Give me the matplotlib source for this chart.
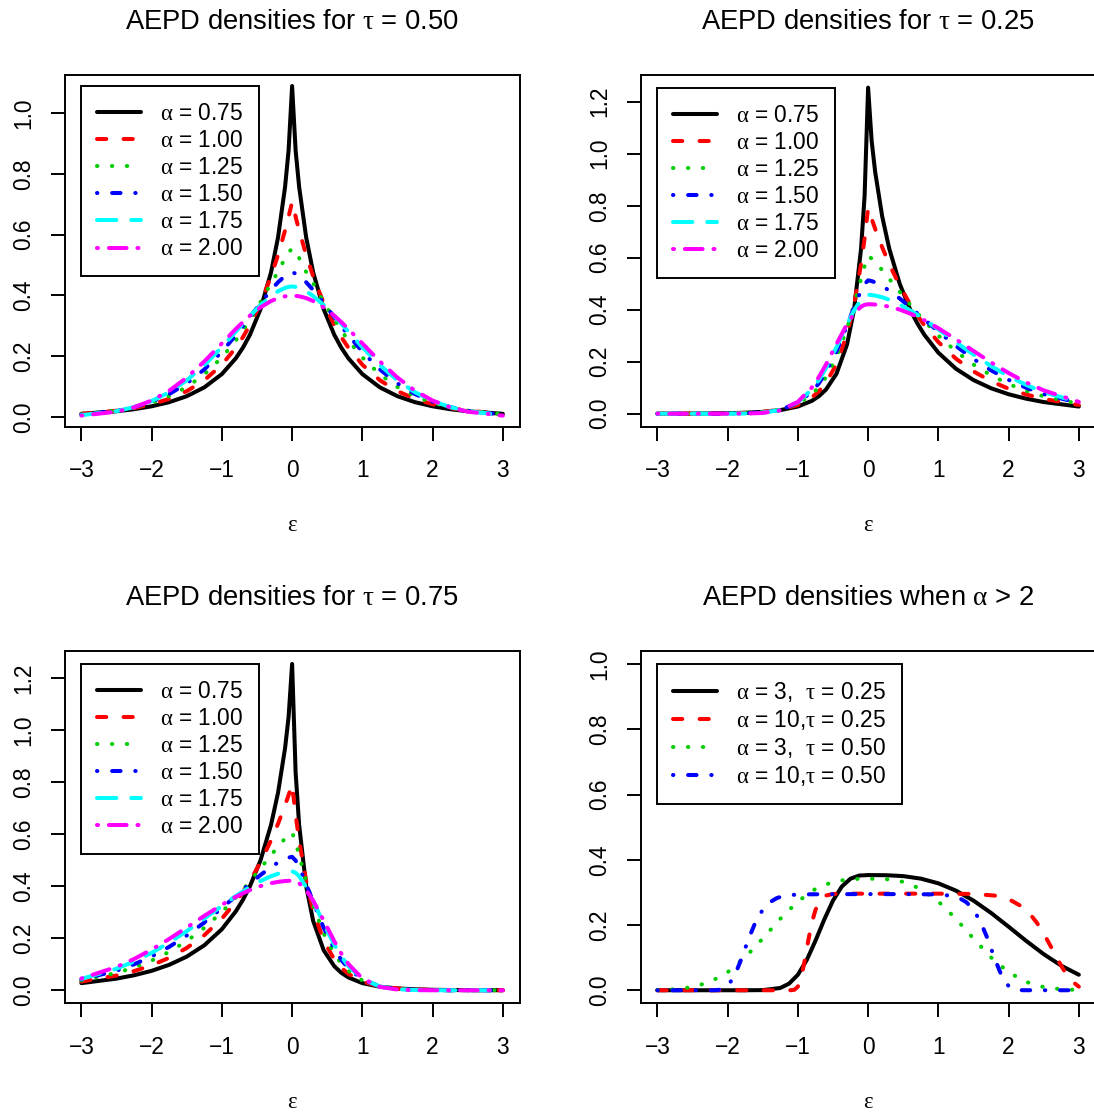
import matplotlib
matplotlib.use('Agg')
import matplotlib.pyplot as plt

plt.rcParams['font.family'] = ['Liberation Sans', 'DejaVu Sans']
plt.rcParams['mathtext.fontset'] = 'custom'
plt.rcParams['mathtext.rm'] = 'Liberation Serif'
plt.rcParams['mathtext.it'] = 'Liberation Serif:italic'
plt.rcParams['mathtext.bf'] = 'Liberation Serif:bold'

# ---- data ----
# distances from 0 where the densities were read, on each side of the mode
offsets = [0.05, 0.1, 0.2, 0.3, 0.45, 0.6, 0.7, 0.8, 1, 1.25, 1.5, 1.75, 2, 2.25, 2.5, 3]
eps = [-o for o in reversed(offsets)] + [0] + offsets

alpha_labels = ['0.75', '1.00', '1.25', '1.50', '1.75', '2.00']

# tau = 0.50 (value at 0, left side going out, right side going out)
t50_peak = [1.0886, 0.7071, 0.5545, 0.4760, 0.4293, 0.3989]
t50_left = [
    [0.8771, 0.7570, 0.5909, 0.4756, 0.3544, 0.2704, 0.2280, 0.1933, 0.1411, 0.0973, 0.0683, 0.0486, 0.0351, 0.0255, 0.0187, 0.0103],
    [0.6588, 0.6139, 0.5329, 0.4626, 0.3742, 0.3027, 0.2627, 0.2281, 0.1719, 0.1207, 0.0848, 0.0595, 0.0418, 0.0293, 0.0206, 0.0102],
    [0.5410, 0.5230, 0.4769, 0.4401, 0.3778, 0.3200, 0.2847, 0.2522, 0.1957, 0.1400, 0.0984, 0.0682, 0.0466, 0.0315, 0.0210, 0.0091],
    [0.4717, 0.4641, 0.4432, 0.4176, 0.3742, 0.3287, 0.2985, 0.2692, 0.2146, 0.1563, 0.1102, 0.0753, 0.0500, 0.0323, 0.0204, 0.0076],
    [0.4279, 0.4246, 0.4136, 0.3979, 0.3678, 0.3324, 0.3071, 0.2812, 0.2297, 0.1704, 0.1204, 0.0812, 0.0524, 0.0324, 0.0192, 0.0060],
    [0.3984, 0.3970, 0.3910, 0.3814, 0.3605, 0.3332, 0.3122, 0.2897, 0.2420, 0.1826, 0.1295, 0.0863, 0.0540, 0.0317, 0.0175, 0.0044],
]
t50_right = [
    [0.8771, 0.7570, 0.5909, 0.4756, 0.3544, 0.2704, 0.2280, 0.1933, 0.1411, 0.0973, 0.0683, 0.0486, 0.0351, 0.0255, 0.0187, 0.0103],
    [0.6588, 0.6139, 0.5329, 0.4626, 0.3742, 0.3027, 0.2627, 0.2281, 0.1719, 0.1207, 0.0848, 0.0595, 0.0418, 0.0293, 0.0206, 0.0102],
    [0.5410, 0.5230, 0.4769, 0.4401, 0.3778, 0.3200, 0.2847, 0.2522, 0.1957, 0.1400, 0.0984, 0.0682, 0.0466, 0.0315, 0.0210, 0.0091],
    [0.4717, 0.4641, 0.4432, 0.4176, 0.3742, 0.3287, 0.2985, 0.2692, 0.2146, 0.1563, 0.1102, 0.0753, 0.0500, 0.0323, 0.0204, 0.0076],
    [0.4279, 0.4246, 0.4136, 0.3979, 0.3678, 0.3324, 0.3071, 0.2812, 0.2297, 0.1704, 0.1204, 0.0812, 0.0524, 0.0324, 0.0192, 0.0060],
    [0.3984, 0.3970, 0.3910, 0.3814, 0.3605, 0.3332, 0.3122, 0.2897, 0.2420, 0.1826, 0.1295, 0.0863, 0.0540, 0.0317, 0.0175, 0.0044],
]

# tau = 0.25
t25_peak = [1.2542, 0.7906, 0.6069, 0.5129, 0.4572, 0.4210]
t25_left = [
    [0.8373, 0.6357, 0.4000, 0.2665, 0.1537, 0.0927, 0.0674, 0.0495, 0.0275, 0.0137, 0.0071, 0.0037, 0.0020, 0.0011, 0.0006, 0.0002],
    [0.6750, 0.5762, 0.4200, 0.3062, 0.1905, 0.1186, 0.0864, 0.0630, 0.0335, 0.0152, 0.0069, 0.0031, 0.0014, 0.0006, 0.0003, 0.0001],
    [0.5684, 0.5193, 0.4189, 0.3279, 0.2184, 0.1404, 0.1029, 0.0745, 0.0379, 0.0156, 0.0061, 0.0023, 0.0008, 0.0003, 0.0001, 0.0000],
    [0.4986, 0.4736, 0.4094, 0.3390, 0.2397, 0.1590, 0.1172, 0.0845, 0.0413, 0.0151, 0.0050, 0.0015, 0.0004, 0.0001, 0.0000, 0.0000],
    [0.4515, 0.4385, 0.3973, 0.3436, 0.2558, 0.1750, 0.1300, 0.0933, 0.0437, 0.0142, 0.0039, 0.0009, 0.0002, 0.0000, 0.0000, 0.0000],
    [0.4186, 0.4117, 0.3851, 0.3445, 0.2682, 0.1888, 0.1414, 0.1012, 0.0454, 0.0130, 0.0028, 0.0005, 0.0001, 0.0000, 0.0000, 0.0000],
]
t25_right = [
    [1.0505, 0.9309, 0.7597, 0.6357, 0.4994, 0.4000, 0.3478, 0.3038, 0.2347, 0.1729, 0.1294, 0.0979, 0.0748, 0.0577, 0.0448, 0.0275],
    [0.7500, 0.7115, 0.6403, 0.5762, 0.4920, 0.4200, 0.3780, 0.3402, 0.2755, 0.2117, 0.1627, 0.1250, 0.0960, 0.0738, 0.0567, 0.0335],
    [0.5969, 0.5834, 0.5525, 0.5193, 0.4685, 0.4189, 0.3871, 0.3568, 0.3007, 0.2399, 0.1892, 0.1477, 0.1142, 0.0876, 0.0668, 0.0379],
    [0.5101, 0.5051, 0.4911, 0.4736, 0.4430, 0.4094, 0.3861, 0.3625, 0.3158, 0.2604, 0.2104, 0.1669, 0.1301, 0.0998, 0.0754, 0.0413],
    [0.4563, 0.4544, 0.4479, 0.4385, 0.4200, 0.3973, 0.3804, 0.3624, 0.3243, 0.2753, 0.2275, 0.1832, 0.1441, 0.1106, 0.0830, 0.0437],
    [0.4207, 0.4199, 0.4168, 0.4117, 0.4004, 0.3851, 0.3729, 0.3593, 0.3287, 0.2860, 0.2413, 0.1973, 0.1565, 0.1203, 0.0897, 0.0454],
]

# tau = 0.75 (mirror image of tau = 0.25)
t75_peak = [1.2542, 0.7906, 0.6069, 0.5129, 0.4572, 0.4210]
t75_left = [
    [1.0505, 0.9309, 0.7597, 0.6357, 0.4994, 0.4000, 0.3478, 0.3038, 0.2347, 0.1729, 0.1294, 0.0979, 0.0748, 0.0577, 0.0448, 0.0275],
    [0.7500, 0.7115, 0.6403, 0.5762, 0.4920, 0.4200, 0.3780, 0.3402, 0.2755, 0.2117, 0.1627, 0.1250, 0.0960, 0.0738, 0.0567, 0.0335],
    [0.5969, 0.5834, 0.5525, 0.5193, 0.4685, 0.4189, 0.3871, 0.3568, 0.3007, 0.2399, 0.1892, 0.1477, 0.1142, 0.0876, 0.0668, 0.0379],
    [0.5101, 0.5051, 0.4911, 0.4736, 0.4430, 0.4094, 0.3861, 0.3625, 0.3158, 0.2604, 0.2104, 0.1669, 0.1301, 0.0998, 0.0754, 0.0413],
    [0.4563, 0.4544, 0.4479, 0.4385, 0.4200, 0.3973, 0.3804, 0.3624, 0.3243, 0.2753, 0.2275, 0.1832, 0.1441, 0.1106, 0.0830, 0.0437],
    [0.4207, 0.4199, 0.4168, 0.4117, 0.4004, 0.3851, 0.3729, 0.3593, 0.3287, 0.2860, 0.2413, 0.1973, 0.1565, 0.1203, 0.0897, 0.0454],
]
t75_right = [
    [0.8373, 0.6357, 0.4000, 0.2665, 0.1537, 0.0927, 0.0674, 0.0495, 0.0275, 0.0137, 0.0071, 0.0037, 0.0020, 0.0011, 0.0006, 0.0002],
    [0.6750, 0.5762, 0.4200, 0.3062, 0.1905, 0.1186, 0.0864, 0.0630, 0.0335, 0.0152, 0.0069, 0.0031, 0.0014, 0.0006, 0.0003, 0.0001],
    [0.5684, 0.5193, 0.4189, 0.3279, 0.2184, 0.1404, 0.1029, 0.0745, 0.0379, 0.0156, 0.0061, 0.0023, 0.0008, 0.0003, 0.0001, 0.0000],
    [0.4986, 0.4736, 0.4094, 0.3390, 0.2397, 0.1590, 0.1172, 0.0845, 0.0413, 0.0151, 0.0050, 0.0015, 0.0004, 0.0001, 0.0000, 0.0000],
    [0.4515, 0.4385, 0.3973, 0.3436, 0.2558, 0.1750, 0.1300, 0.0933, 0.0437, 0.0142, 0.0039, 0.0009, 0.0002, 0.0000, 0.0000, 0.0000],
    [0.4186, 0.4117, 0.3851, 0.3445, 0.2682, 0.1888, 0.1414, 0.1012, 0.0454, 0.0130, 0.0028, 0.0005, 0.0001, 0.0000, 0.0000, 0.0000],
]

# alpha > 2
a3_t25_x = [-3, -2.5, -2, -1.75, -1.5, -1.25, -1.125, -1, -0.875, -0.75, -0.625, -0.5, -0.375, -0.25, -0.125, 0,
            0.25, 0.5, 0.75, 1, 1.25, 1.5, 1.75, 2, 2.25, 2.5, 2.75, 3]
a3_t25_y = [0.0, 0.0, 0.0, 0.0, 0.0004, 0.0070, 0.0203, 0.0475, 0.0921, 0.1514, 0.2164, 0.2748, 0.3177, 0.3422,
            0.3517, 0.3531, 0.3527, 0.3499, 0.3422, 0.3278, 0.3054, 0.2748, 0.2371, 0.1948, 0.1514, 0.1106, 0.0753, 0.0475]

a10_t25_x = [-3, -1.2, -1.1, -1.05, -1.0, -0.95, -0.9, -0.85, -0.8, -0.75, -0.7, -0.6, -0.5, -0.3, 0,
             1.0, 1.5, 1.8, 2.0, 2.2, 2.3, 2.4, 2.5, 2.6, 2.7, 2.8, 2.9, 3.0]
a10_t25_y = [0.0, 0.0, 0.0001, 0.0014, 0.0109, 0.0411, 0.0937, 0.1546, 0.2078, 0.2459, 0.2697, 0.2903, 0.2952, 0.2961,
             0.2961, 0.2961, 0.2952, 0.2903, 0.2796, 0.2553, 0.2349, 0.2078, 0.1738, 0.1345, 0.0937, 0.0566, 0.0282, 0.0109]

a3_t50_x = [-3, -2.75, -2.5, -2.25, -2, -1.75, -1.5, -1.25, -1, -0.75, -0.5, -0.25, 0,
            0.25, 0.5, 0.75, 1, 1.25, 1.5, 1.75, 2, 2.25, 2.5, 2.75, 3]
a3_t50_y = [0.0007, 0.0030, 0.0097, 0.0255, 0.0552, 0.1008, 0.1584, 0.2191, 0.2723, 0.3107, 0.3325, 0.3409, 0.3421,
            0.3409, 0.3325, 0.3107, 0.2723, 0.2191, 0.1584, 0.1008, 0.0552, 0.0255, 0.0097, 0.0030, 0.0007]

a10_t50_x = [-3, -2.4, -2.2, -2.1, -2.0, -1.9, -1.8, -1.7, -1.6, -1.5, -1.4, -1.3, -1.2, -1.0, -0.5, 0,
             0.5, 1.0, 1.2, 1.3, 1.4, 1.5, 1.6, 1.7, 1.8, 1.9, 2.0, 2.1, 2.2, 2.4, 3]
a10_t50_y = [0.0, 0.0, 0.0001, 0.0017, 0.0127, 0.0447, 0.0983, 0.1586, 0.2102, 0.2468, 0.2696, 0.2825, 0.2892, 0.2938,
             0.2947, 0.2947, 0.2947, 0.2938, 0.2892, 0.2825, 0.2696, 0.2468, 0.2102, 0.1586, 0.0983, 0.0447, 0.0127,
             0.0017, 0.0001, 0.0, 0.0]

x_ticks = [-3, -2, -1, 0, 1, 2, 3]
y_ticks_a = [0.0, 0.2, 0.4, 0.6, 0.8, 1.0]
y_ticks_b = [0.0, 0.2, 0.4, 0.6, 0.8, 1.0, 1.2]

# ---- styles (R palette / lty 1..6) ----
colors = ['black', 'red', '#00CD00', 'blue', 'cyan', 'magenta']
dashes = [None, (2.3, 4.3), (0.1, 3.6), (0.1, 3.65, 2.1, 3.65), (4.8, 3.7), (0.25, 2.7, 4.4, 2.7)]
LW = 2.9
FS = 16.4
TFS = 19.7

fig = plt.figure(figsize=(10.94, 11.14), dpi=100)
W = 0.41609
positions = [
    [0.05896, 0.61697, W, 0.316],
    [0.58547, 0.61697, W, 0.316],
    [0.05896, 0.09937, W, 0.31625],
    [0.58547, 0.09937, W, 0.31625],
]


def draw(ax, xs, ys, col, dash, label):
    line, = ax.plot(xs, ys, color=col, lw=LW, label=label,
                    solid_capstyle='round', dash_capstyle='round')
    if dash is not None:
        line.set_dashes(dash)


def setup(ax, title, ylim, yticks, leg_top):
    ax.set_xlim(-3.24, 3.24)
    ax.set_ylim(*ylim)
    ax.set_xticks(x_ticks)
    ax.set_yticks(yticks)
    ax.set_yticklabels([f'{v:.1f}' for v in yticks])
    ax.tick_params(axis='both', length=10, width=1.4, labelsize=FS)
    ax.tick_params(axis='x', pad=13.5)
    ax.tick_params(axis='y', pad=11)
    for lab in ax.get_yticklabels():
        lab.set_rotation(90)
        lab.set_va('center')
    for sp in ax.spines.values():
        sp.set_linewidth(1.4)
    ax.set_title(title, fontsize=TFS, pad=33)
    ax.set_xlabel('ε', fontfamily='Liberation Serif', fontsize=FS, labelpad=23.5)
    leg = ax.legend(loc='upper left', bbox_to_anchor=(-3, leg_top), bbox_transform=ax.transData,
                    borderaxespad=0, fontsize=FS, handlelength=1.9, handletextpad=0.85,
                    borderpad=0.7, labelspacing=0.18, fancybox=False, framealpha=1,
                    edgecolor='black')
    leg.get_frame().set_linewidth(1.4)


panels = [
    (t50_peak, t50_left, t50_right, r'AEPD densities for $\mathrm{\tau}$ = 0.50', (-0.032, 1.126), y_ticks_a),
    (t25_peak, t25_left, t25_right, r'AEPD densities for $\mathrm{\tau}$ = 0.25', (-0.050, 1.304), y_ticks_b),
    (t75_peak, t75_left, t75_right, r'AEPD densities for $\mathrm{\tau}$ = 0.75', (-0.050, 1.304), y_ticks_b),
]

for i, (peak, left, right, title, ylim, yticks) in enumerate(panels):
    ax = fig.add_axes(positions[i])
    for k in range(len(peak)):
        ys = left[k][::-1] + [peak[k]] + right[k]
        draw(ax, eps, ys, colors[k], dashes[k], r'$\mathrm{\alpha}$ = ' + alpha_labels[k])
    setup(ax, title, ylim, yticks, peak[0])

ax = fig.add_axes(positions[3])
draw(ax, a3_t25_x, a3_t25_y, colors[0], dashes[0], r'$\mathrm{\alpha}$ = 3,  $\mathrm{\tau}$ = 0.25')
draw(ax, a10_t25_x, a10_t25_y, colors[1], dashes[1], r'$\mathrm{\alpha}$ = 10,$\mathrm{\tau}$ = 0.25')
draw(ax, a3_t50_x, a3_t50_y, colors[2], dashes[2], r'$\mathrm{\alpha}$ = 3,  $\mathrm{\tau}$ = 0.50')
draw(ax, a10_t50_x, a10_t50_y, colors[3], dashes[3], r'$\mathrm{\alpha}$ = 10,$\mathrm{\tau}$ = 0.50')
setup(ax, r'AEPD densities when $\mathrm{\alpha}$ > 2', (-0.04, 1.04), y_ticks_a, 1.0)

fig.savefig('out.png', dpi=100)
